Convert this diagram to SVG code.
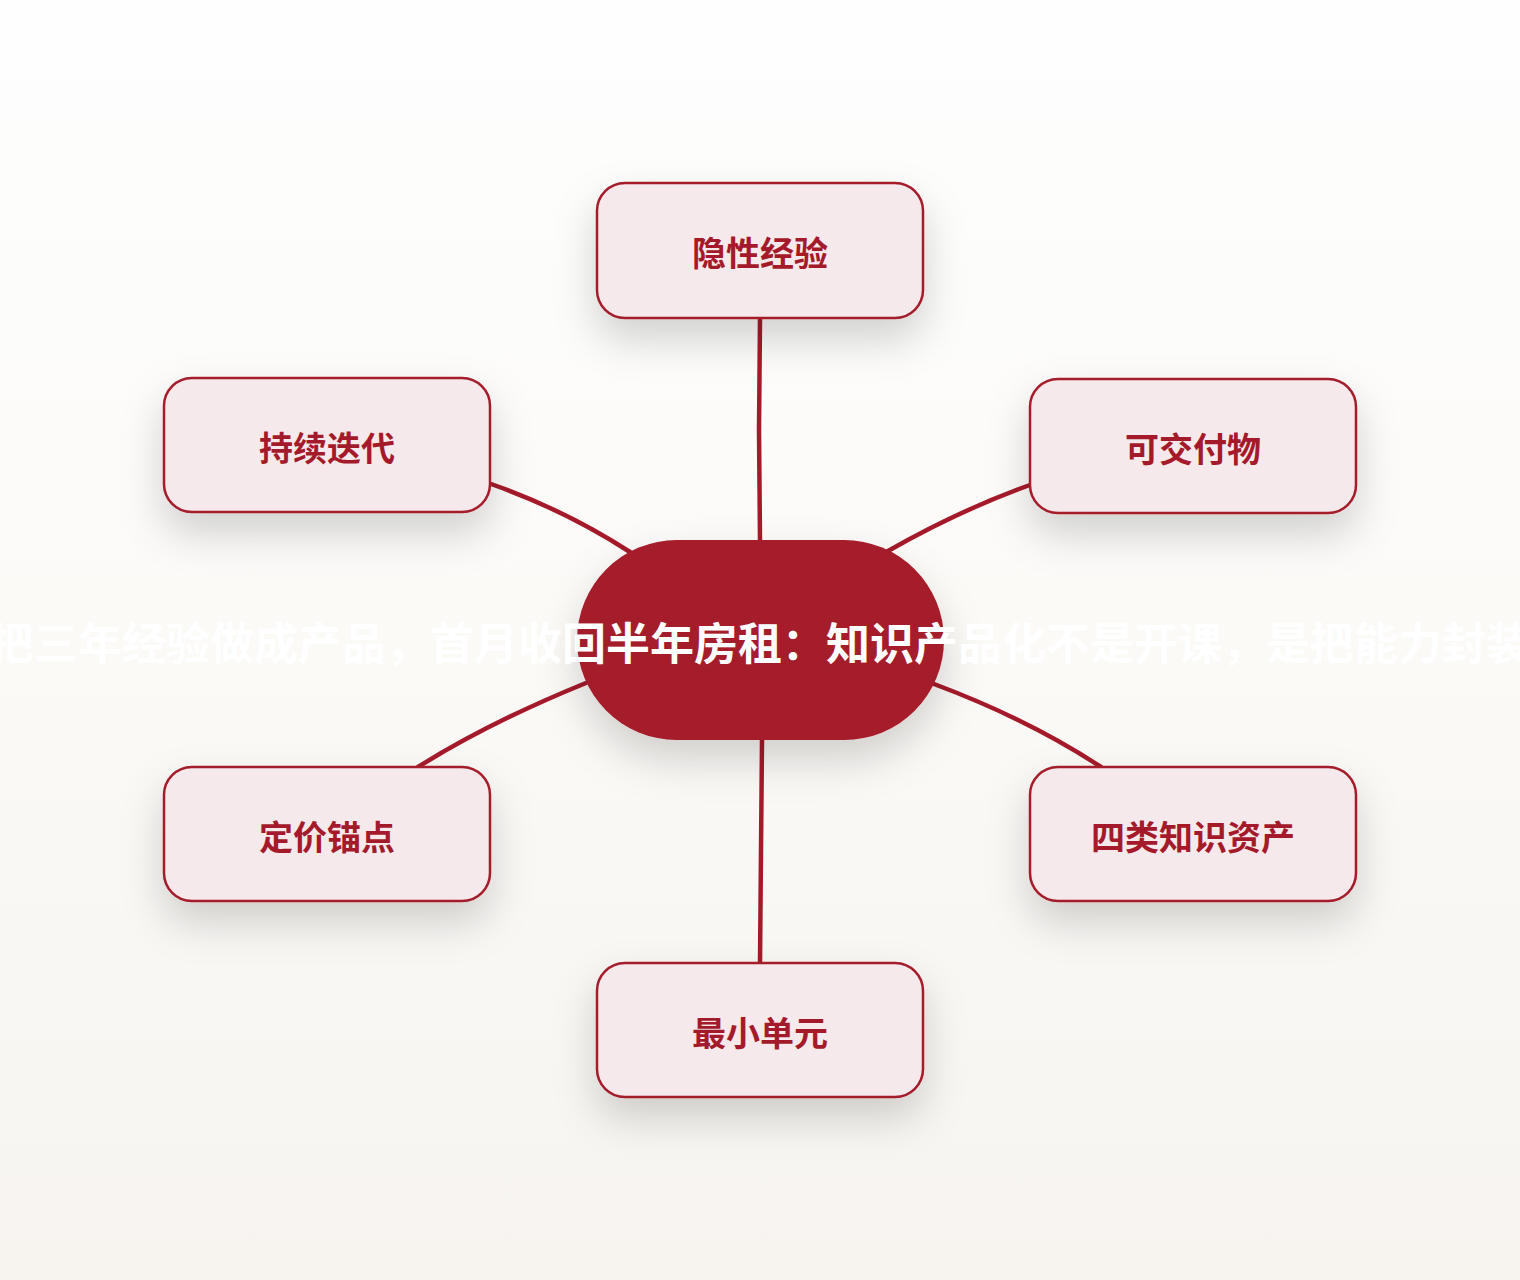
<svg xmlns="http://www.w3.org/2000/svg" width="1520" height="1280" viewBox="0 0 1520 1280">
<defs>
<linearGradient id="bg" x1="0" y1="0" x2="0" y2="1">
<stop offset="0" stop-color="#FEFEFE"/>
<stop offset="0.5" stop-color="#FBFAF7"/>
<stop offset="1" stop-color="#F7F4F0"/>
</linearGradient>
<filter id="sh" x="-50%" y="-50%" width="200%" height="220%">
<feDropShadow dx="0" dy="20" stdDeviation="20" flood-color="#000" flood-opacity="0.17"/>
</filter>
</defs>
<style>
.box{fill:#F5E9EB;stroke:#A51A2A;stroke-width:2.5}
.lbl{font-family:"Noto Sans CJK SC","Noto Sans",sans-serif;font-weight:700;font-size:34px;fill:#A51A2A;text-anchor:middle;dominant-baseline:central}
.edge{fill:none;stroke:#A51A2A;stroke-width:4.5;stroke-linecap:round}
.title{font-family:"Noto Sans CJK SC","Noto Sans",sans-serif;font-weight:700;font-size:44px;fill:#FFFFFF;text-anchor:middle;dominant-baseline:central}
</style>
<rect width="1520" height="1280" fill="url(#bg)"/>
<g id="connectors">
<path class="edge" d="M760,318 L759,430 L760,540"/>
<path class="edge" d="M762,740 L761,850 L760,963"/>
<path class="edge" d="M491,484 Q565,510 630,552"/>
<path class="edge" d="M1030,485 Q960,510 888,551"/>
<path class="edge" d="M418,767 Q490,722 586,683"/>
<path class="edge" d="M934,684 Q1030,720 1101,767"/>
</g>
<g id="center">
<rect x="577" y="540" width="367" height="200" rx="100" fill="#A51A2A" filter="url(#sh)"/>
<text class="title" x="760" y="641">把三年经验做成产品，首月收回半年房租：知识产品化不是开课，是把能力封装</text>
</g>
<g id="n1">
<rect class="box" x="597" y="183" width="326" height="135" rx="28" filter="url(#sh)"/>
<text class="lbl" x="760" y="251">隐性经验</text>
</g>
<g id="n2">
<rect class="box" x="1030" y="379" width="326" height="134" rx="28" filter="url(#sh)"/>
<text class="lbl" x="1193" y="447">可交付物</text>
</g>
<g id="n3">
<rect class="box" x="1030" y="767" width="326" height="134" rx="28" filter="url(#sh)"/>
<text class="lbl" x="1193" y="835">四类知识资产</text>
</g>
<g id="n4">
<rect class="box" x="597" y="963" width="326" height="134" rx="28" filter="url(#sh)"/>
<text class="lbl" x="760" y="1031">最小单元</text>
</g>
<g id="n5">
<rect class="box" x="164" y="767" width="326" height="134" rx="28" filter="url(#sh)"/>
<text class="lbl" x="327" y="835">定价锚点</text>
</g>
<g id="n6">
<rect class="box" x="164" y="378" width="326" height="134" rx="28" filter="url(#sh)"/>
<text class="lbl" x="327" y="446">持续迭代</text>
</g>
</svg>
